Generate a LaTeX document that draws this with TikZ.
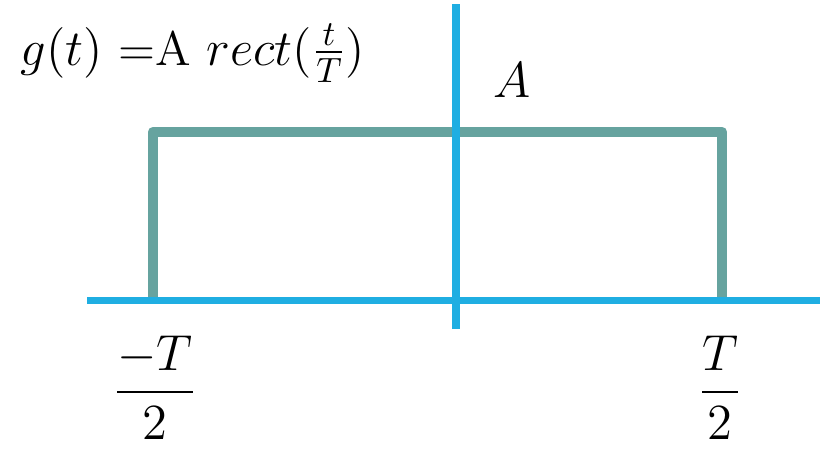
\documentclass[tikz,border=0pt]{standalone}
\usepackage{amsmath}
\definecolor{axisblue}{HTML}{1FAEE2}
\definecolor{pulsegreen}{HTML}{66A39F}
\tikzset{
    axisline/.style={line width=2pt, axisblue},
    pulse/.style={line width=3pt, pulsegreen, line join=round},
    lbl/.style={font=\fontsize{13.5}{16}\selectfont, inner sep=0pt}
}
\begin{document}
\begin{tikzpicture}

        \useasboundingbox (0,0) rectangle (8.2,4.49);

        % ==================== 矩形脉冲 ====================
        \coordinate (L0) at (1.53,1.485);
        \coordinate (L1) at (1.53,3.17);
        \coordinate (R1) at (7.22,3.17);
        \coordinate (R0) at (7.22,1.485);
        \draw[pulse] (L0) -- (L1) -- (R1) -- (R0);

        % ==================== 坐标轴 ====================
        \coordinate (XL) at (0.87,1.485);
        \coordinate (XR) at (8.2,1.485);
        \coordinate (YB) at (4.56,1.20);
        \coordinate (YT) at (4.56,4.45);
        \draw[axisline] (XL) -- (XR);
        \draw[axisline] (YB) -- (YT);

        % ==================== 标注 ====================
        \node[lbl, font=\fontsize{13.8}{16}\selectfont, anchor=base west] (eq) at (0.20,3.84) {$g(t)$ =A $rect(\frac{t}{T})$};
        \node[lbl] (amp) at (5.12,3.69) {$A$};
        \node[lbl] (tl) at (1.55,0.61) {$\dfrac{-T}{2}$};
        \node[lbl] (tr) at (7.20,0.61) {$\dfrac{T}{2}$};

\end{tikzpicture}
\end{document}
